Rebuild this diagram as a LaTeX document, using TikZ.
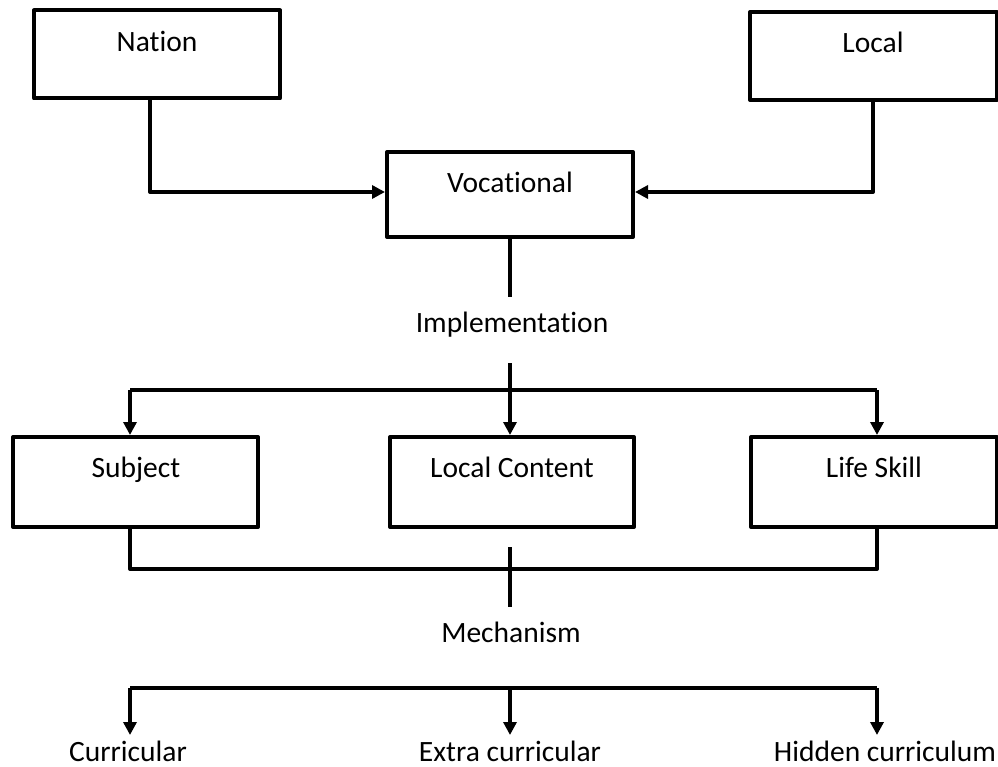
\documentclass[tikz,border=0pt]{standalone}
\usepackage{fontspec}
\setmainfont[Ligatures={NoCommon,TeX}]{Carlito}
\usetikzlibrary{arrows.meta}
\begin{document}
\begin{tikzpicture}[x=1pt,y=-1pt,
  box/.style={draw=black,line width=4pt,line join=round,rectangle,inner sep=0pt,minimum width=246pt},
  lbl/.style={font=\fontsize{29.5}{34}\selectfont,inner sep=0pt,anchor=base},
  low/.style={lbl,text depth=0pt},
  line/.style={draw=black,line width=4pt},
  conn/.style={line,-{Triangle[length=13pt,width=13pt]}}]
\useasboundingbox (0,0) rectangle (998,767);
% top boxes
\node[box,minimum height=88pt] (nation) at (157,54.5) {};
\node[lbl] (nationt) at (157,52) {Nation};
\node[box,minimum height=88pt,minimum width=247pt] (local) at (873.5,56) {};
\node[lbl] (localt) at (873,53) {Local};
\node[box,minimum height=85pt] (voc) at (510,194.5) {};
\node[lbl] (voct) at (510,193) {Vocational};
% middle boxes
\node[box,minimum height=90pt,minimum width=245pt] (subj) at (135.5,482) {};
\node[lbl] (subjt) at (136,477) {Subject};
\node[box,minimum height=90pt,minimum width=244pt] (lc) at (512,482) {};
\node[lbl] (lct) at (512,477) {Local Content};
\node[box,minimum height=90pt] (life) at (874,482) {};
\node[lbl] (lifet) at (874,477) {Life Skill};
% text labels
\node[lbl] (impl) at (512,332) {Implementation};
\node[lbl] (mech) at (511,642) {Mechanism};
\node[low] (cur) at (128,761) {Curricular};
\node[low] (extra) at (510,761) {Extra curricular};
\node[low] (hidden) at (885,761) {Hidden curriculum};
% coordinates
\coordinate (nx) at (150,0);
\coordinate (lx) at (873,0);
\coordinate (vstem) at (510,297);
\coordinate (itop) at (510,363);
\coordinate (bl) at (130,390);
\coordinate (br) at (877,390);
\coordinate (ml) at (130,569);
\coordinate (mr) at (877,569);
\coordinate (mtop) at (510,547);
\coordinate (mbot) at (510,607);
\coordinate (cl) at (130,688);
\coordinate (cm) at (510,688);
\coordinate (cr) at (877,688);
\coordinate (al) at (130,735);
\coordinate (am) at (510,735);
\coordinate (ar) at (877,735);
% connectors top
\draw[conn,line join=round] (nx |- nation.south) |- ([yshift=2.5pt]voc.west);
\draw[conn,line join=round] (lx |- local.south) |- ([yshift=2.5pt]voc.east);
\draw[line] (voc.south) -- (vstem);
% implementation split
\draw[line,line join=round] (bl) -- (br);
\draw[conn] (itop) -- (itop |- lc.north);
\draw[conn] (bl) -- (bl |- subj.north);
\draw[conn] (br) -- (br |- life.north);
% merge
\draw[line,line join=round] (ml |- subj.south) -- (ml) -- (mr) -- (mr |- life.south);
\draw[line] (mtop) -- (mbot);
% mechanism split
\draw[line,line join=round] (cl) -- (cr);
\draw[conn] (cl) -- (al);
\draw[conn] (cm) -- (am);
\draw[conn] (cr) -- (ar);
\end{tikzpicture}
\end{document}
